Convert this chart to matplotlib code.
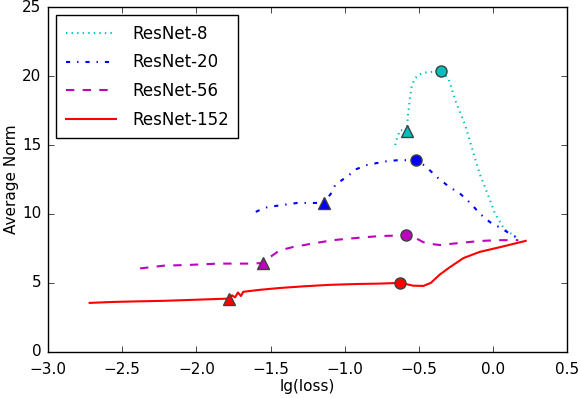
import matplotlib
matplotlib.use("Agg")
import matplotlib.pyplot as plt

plt.style.use('classic')

# ---- data ----
labels = ["ResNet-8", "ResNet-20", "ResNet-56", "ResNet-152"]

x8 = [-0.66, -0.645, -0.625, -0.60, -0.58, -0.575, -0.565, -0.55, -0.53, -0.50,
      -0.46, -0.42, -0.35, -0.30, -0.25, -0.19, -0.14, -0.09, -0.035, 0.01, 0.075, 0.16]
y8 = [15.0, 15.6, 16.1, 16.0, 16.0, 17.1, 18.0, 19.2, 19.8, 20.1,
      20.25, 20.3, 20.35, 19.8, 18.1, 16.5, 14.7, 12.9, 11.4, 10.1, 8.9, 8.3]

x20 = [-1.60, -1.56, -1.52, -1.42, -1.32, -1.22, -1.14, -1.085, -1.065, -1.04, -0.98,
       -0.92, -0.85, -0.78, -0.71, -0.64, -0.52, -0.46, -0.41, -0.37, -0.30, -0.22,
       -0.154, -0.087, -0.02, 0.048, 0.156]
y20 = [10.15, 10.35, 10.5, 10.65, 10.8, 10.8, 10.8, 11.6, 12.1, 12.3, 12.75,
       13.26, 13.55, 13.7, 13.84, 13.9, 13.9, 13.5, 13.0, 12.6, 12.0, 11.45,
       10.8, 10.0, 9.4, 9.0, 8.3]

x56 = [-2.38, -2.30, -2.22, -2.06, -1.85, -1.62, -1.55, -1.50, -1.44, -1.35, -1.22,
       -1.08, -0.88, -0.76, -0.59, -0.53, -0.47, -0.40, -0.36, -0.22, -0.09, 0.03, 0.17]
y56 = [6.05, 6.15, 6.25, 6.3, 6.4, 6.4, 6.45, 6.9, 7.35, 7.6, 7.85,
       8.1, 8.3, 8.4, 8.45, 8.3, 7.95, 7.8, 7.75, 7.9, 8.04, 8.1, 8.1]

x152 = [-2.72, -2.56, -2.40, -2.22, -2.00, -1.84, -1.78, -1.76, -1.74, -1.72, -1.70,
        -1.685, -1.65, -1.57, -1.44, -1.28, -1.10, -0.92, -0.76, -0.63, -0.58, -0.54,
        -0.47, -0.42, -0.36, -0.29, -0.20, -0.09, 0.05, 0.22]
y152 = [3.55, 3.62, 3.66, 3.7, 3.78, 3.84, 3.86, 4.1, 3.95, 4.3, 4.05,
        4.35, 4.4, 4.5, 4.63, 4.75, 4.86, 4.92, 4.95, 5.0, 4.9, 4.8,
        4.78, 5.0, 5.6, 6.15, 6.8, 7.25, 7.6, 8.05]

tri_x = [-0.58, -1.14, -1.55, -1.78]
tri_y = [16.0, 10.8, 6.45, 3.85]
circ_x = [-0.35, -0.52, -0.59, -0.63]
circ_y = [20.35, 13.9, 8.45, 5.0]

colors = ['c', 'b', 'm', 'r']
styles = [':', '-.', '--', '-']
xs = [x8, x20, x56, x152]
ys = [y8, y20, y56, y152]

fig = plt.figure(figsize=(5.8, 3.98), dpi=100, facecolor='white')
ax = fig.add_axes([0.083, 0.116, 0.895, 0.866])
ax.set_facecolor('white')

for i in range(4):
    ax.plot(xs[i], ys[i], color=colors[i], linestyle=styles[i], lw=1.5, label=labels[i])
for i in range(4):
    ax.plot(tri_x[i], tri_y[i], marker='^', markersize=8, color=colors[i],
            markeredgecolor='0.25', markeredgewidth=1.0, linestyle='none')
    ax.plot(circ_x[i], circ_y[i], marker='o', markersize=8, color=colors[i],
            markeredgecolor='0.25', markeredgewidth=1.0, linestyle='none')

ax.set_xlim(-3.0, 0.5)
ax.set_ylim(0, 25)
ax.set_xlabel('lg(loss)', fontsize=11, labelpad=2)
ax.set_ylabel('Average Norm', fontsize=11, labelpad=2)
ax.tick_params(labelsize=11)
ax.tick_params(axis='x', pad=7)
ax.tick_params(axis='y', pad=5)
leg = ax.legend(loc='upper left', fontsize=12, numpoints=1, handlelength=3,
                labelspacing=0.65, handletextpad=1.0, borderpad=0.55)
leg.get_frame().set_edgecolor('black')

fig.savefig('out.png', dpi=100, facecolor='white')
